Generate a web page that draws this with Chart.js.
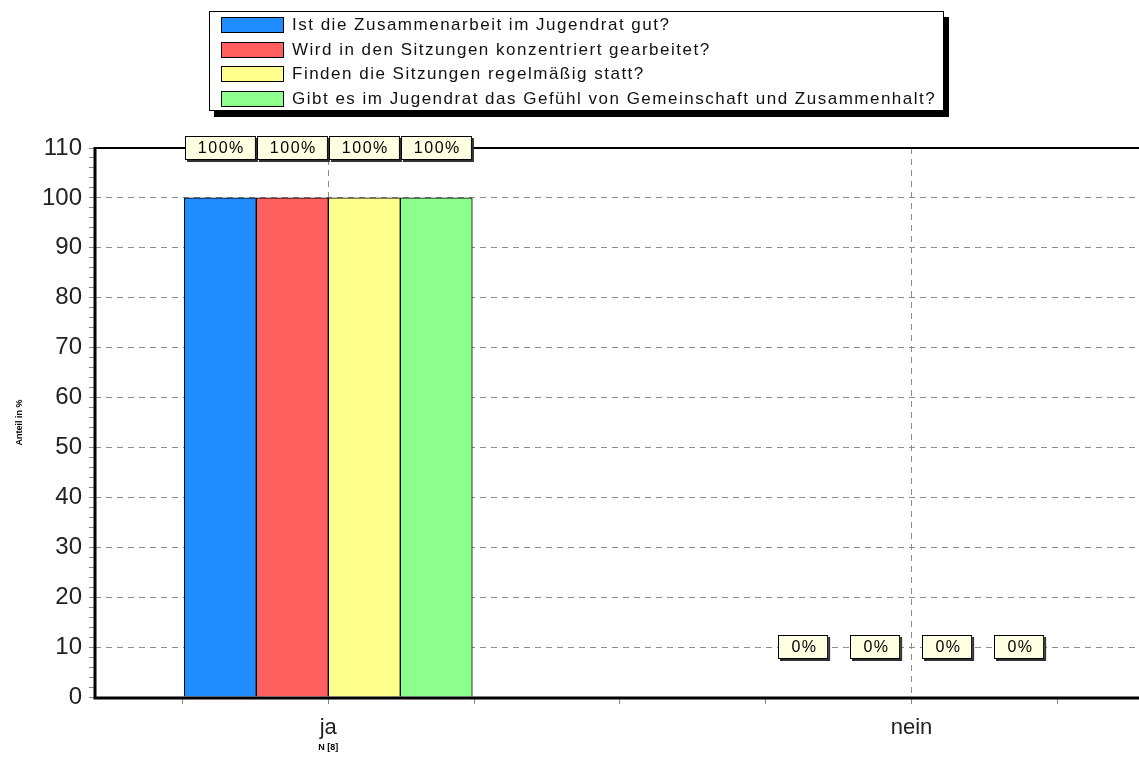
<!DOCTYPE html>
<html>
<head>
<meta charset="utf-8">
<script src="https://cdn.jsdelivr.net/npm/chart.js@4.4.1/dist/chart.umd.min.js"></script>
<style>
    body { margin: 0; background: #fff; }
    #wrap { position: relative; width: 1139px; height: 760px; }
    #legend {
        position: absolute; left: 209px; top: 11px; width: 733px; height: 98px;
        border: 1px solid #000; background: #fff; box-shadow: 5px 6px 0 #000;
        font-family: "Liberation Sans", Arial, sans-serif; font-size: 17px; letter-spacing: 1.5px; color: #111;
    }
    #legend .row { position: absolute; left: 11px; height: 16px; line-height: 16px; white-space: nowrap; }
    #legend .sw { display: inline-block; width: 61px; height: 14px; border: 1px solid #000; vertical-align: top; margin-right: 8px; }
</style>
</head>
<body>
<div id="wrap">
    <canvas id="chart" width="1139" height="760"></canvas>
    <div id="legend"></div>
</div>
<script>
// categories (x) and the four questions
const categories = ["ja", "nein"];
const questions = [
    "Ist die Zusammenarbeit im Jugendrat gut?",
    "Wird in den Sitzungen konzentriert gearbeitet?",
    "Finden die Sitzungen regelmäßig statt?",
    "Gibt es im Jugendrat das Gefühl von Gemeinschaft und Zusammenhalt?"
];

// share in % per category
const zusammenarbeit = [100, 0];
const konzentriert = [100, 0];
const regelmaessig = [100, 0];
const gemeinschaft = [100, 0];

const sampleSize = 8;
const colors = ["#1e8cff", "#ff5f5f", "#ffff8c", "#8cff8c"];

const seriesValues = [zusammenarbeit, konzentriert, regelmaessig, gemeinschaft];

const datasets = questions.map((q, i) => ({
    label: q,
    data: categories.map((c, j) => ({ x: j, y: seriesValues[i][j] })),
    backgroundColor: colors[i],
    borderColor: "#000",
    borderWidth: 1,
    barThickness: 72
}));

const FONT = "'Liberation Sans', Arial, sans-serif";

// axis frame, value boxes and the x title
const framePlugin = {
    id: "frame",
    afterDatasetsDraw(chart) {
        const ctx = chart.ctx;
        const a = chart.chartArea;
        const xs = chart.scales.x, ys = chart.scales.y;

        ctx.save();
        ctx.strokeStyle = "#000";
        ctx.lineWidth = 2;
        ctx.beginPath();
        ctx.moveTo(a.left, a.top);
        ctx.lineTo(a.right, a.top);
        ctx.stroke();

        ctx.lineWidth = 3;
        ctx.beginPath();
        ctx.moveTo(a.left, a.top - 1);
        ctx.lineTo(a.left, a.bottom + 1);
        ctx.lineTo(a.right, a.bottom + 1);
        ctx.stroke();

        // value boxes
        ctx.font = "16px " + FONT;
        ctx.letterSpacing = "1.5px";
        ctx.textAlign = "center";
        ctx.textBaseline = "middle";
        chart.data.datasets.forEach((ds, i) => {
            const meta = chart.getDatasetMeta(i);
            meta.data.forEach((bar, j) => {
                const v = ds.data[j].y;
                const txt = v + "%";
                const w = ctx.measureText(txt).width + 24;
                const h = 24;
                const y = ys.getPixelForValue(v + 10);
                const x0 = Math.round(bar.x - w / 2), y0 = Math.round(y - h / 2);
                ctx.fillStyle = "#333";
                ctx.fillRect(x0 + 2, y0 + 2, w, h);
                ctx.fillStyle = "#ffffe1";
                ctx.fillRect(x0, y0, w, h);
                ctx.lineWidth = 1;
                ctx.strokeStyle = "#000";
                ctx.strokeRect(x0 + 0.5, y0 + 0.5, w - 1, h - 1);
                ctx.fillStyle = "#000";
                ctx.fillText(txt, bar.x + 1, y + 1);
            });
        });

        // x axis title
        ctx.letterSpacing = "0px";
        ctx.font = "bold 9px " + FONT;
        ctx.fillStyle = "#000";
        ctx.fillText("N [" + sampleSize + "]", xs.getPixelForValue(0), a.bottom + 51);
        ctx.restore();
    }
};

const chart = new Chart(document.getElementById("chart"), {
    type: "bar",
    data: { datasets: datasets },
    plugins: [framePlugin],
    options: {
        responsive: false,
        animation: false,
        layout: { padding: { top: 148, left: 0, right: 0, bottom: 0 } },
        plugins: { legend: { display: false }, tooltip: { enabled: false } },
        scales: {
            x: {
                type: "linear",
                offset: false,
                min: -0.4,
                max: 1.39,
                afterBuildTicks: s => {
                    s.ticks = s.ticks.filter(t => Math.abs(t.value * 4 - Math.round(t.value * 4)) < 1e-9);
                },
                afterFit: s => { s.height = 63; },
                ticks: {
                    stepSize: 0.25,
                    autoSkip: false,
                    maxRotation: 0,
                    padding: 11,
                    color: "#222",
                    font: { size: 22, family: FONT },
                    callback: v => Number.isInteger(v) ? categories[v] : ""
                },
                grid: {
                    offset: false,
                    color: c => (c.tick && Number.isInteger(c.tick.value)) ? "#8c8c8c" : "rgba(0,0,0,0)",
                    tickColor: "#888",
                    tickLength: 7
                },
                border: { display: false, dash: [6, 5] }
            },
            y: {
                min: 0,
                max: 110,
                afterFit: s => { s.width = 95; },
                ticks: {
                    stepSize: 2,
                    autoSkip: false,
                    padding: 7,
                    color: "#222",
                    font: { size: 24, family: FONT },
                    callback: v => v % 10 === 0 ? v : ""
                },
                grid: {
                    color: c => (c.tick && c.tick.value % 10 === 0) ? "#8c8c8c" : "rgba(0,0,0,0)",
                    tickColor: "#888",
                    tickLength: 6
                },
                border: { display: false, dash: [6, 5] },
                title: {
                    display: true,
                    text: "Anteil in %",
                    color: "#000",
                    font: { size: 9, weight: "bold", family: FONT },
                    padding: { top: 14, bottom: 0 }
                }
            }
        }
    }
});

// legend built from the chart's datasets
const legend = document.getElementById("legend");
chart.data.datasets.forEach((ds, i) => {
    const row = document.createElement("div");
    row.className = "row";
    row.style.top = (5 + i * 24.5) + "px";
    row.innerHTML = '<span class="sw" style="background:' + ds.backgroundColor + '"></span>' + ds.label;
    legend.appendChild(row);
});
</script>
</body>
</html>
